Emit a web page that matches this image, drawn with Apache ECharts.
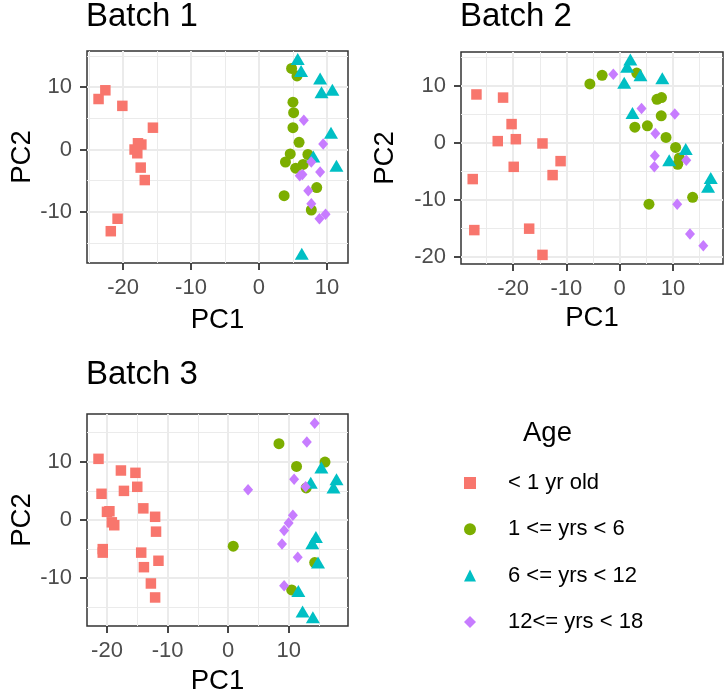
<!DOCTYPE html>
<html>
<head>
<meta charset="utf-8">
<script src="https://cdn.jsdelivr.net/npm/echarts@6/dist/echarts.min.js"></script>
<style>
  html, body { margin: 0; padding: 0; background: #fff; }
  #chart { width: 726px; height: 696px; }
</style>
</head>
<body>
<div id="chart"></div>
<script>
// ---------- Data ----------
const groups = ['< 1 yr old', '1 <= yrs < 6', '6 <= yrs < 12', '12<= yrs < 18'];
const panelTitles = ['Batch 1', 'Batch 2', 'Batch 3'];

// Batch 1
const b1_lt1 = [[-22.6,9.5],[-23.6,8.1],[-20.1,7.0],[-15.6,3.5],[-17.3,0.8],[-17.8,1.0],[-18.3,0.0],[-17.9,-0.6],[-17.4,-2.9],[-16.8,-4.9],[-20.8,-11.1],[-21.8,-13.1]];
const b1_1to6 = [[4.8,13.0],[5.6,11.8],[5.0,7.6],[5.1,5.9],[5.0,3.5],[5.9,1.15],[4.6,-0.7],[3.9,-2.0],[7.2,-0.8],[6.5,-2.4],[5.4,-3.0],[8.5,-6.1],[3.7,-7.4],[7.7,-9.7]];
const b1_6to12 = [[5.7,14.5],[6.2,12.6],[9.0,11.4],[9.2,9.2],[10.8,9.6],[10.6,2.7],[8.0,-1.1],[11.4,-2.6],[6.3,-16.7]];
const b1_12to18 = [[6.6,4.7],[9.45,0.9],[7.7,-2.0],[6.0,-4.2],[6.4,-4.0],[9.0,-3.6],[7.25,-6.6],[7.7,-8.7],[8.9,-11.1],[9.8,-10.4]];

// Batch 2
const b2_lt1 = [[-26.9,8.45],[-21.9,7.9],[-20.3,3.25],[-22.9,0.26],[-19.5,0.6],[-14.5,-0.15],[-11.1,-3.25],[-19.9,-4.25],[-12.6,-5.7],[-27.6,-6.4],[-27.3,-15.35],[-17.0,-15.1],[-14.5,-19.7]];
const b2_1to6 = [[-5.6,10.3],[-3.3,11.8],[3.2,12.2],[2.85,2.7],[5.2,2.95],[5.5,-10.8],[7.0,7.6],[7.85,7.9],[7.8,4.7],[8.7,0.9],[10.5,-0.85],[11.2,-2.7],[10.9,-3.8],[13.7,-9.6]];
const b2_6to12 = [[2.0,14.6],[1.4,13.3],[3.9,11.8],[0.85,10.5],[8.0,11.3],[2.4,5.2],[12.4,-1.1],[9.3,-3.1],[17.1,-6.2],[16.6,-7.75]];
const b2_12to18 = [[-1.2,12.0],[4.1,6.0],[10.35,5.0],[6.7,1.6],[6.6,-2.3],[6.5,-4.25],[12.5,-3.1],[10.8,-10.8],[13.2,-16.05],[15.7,-18.1]];

// Batch 3
const b3_lt1 = [[-21.4,10.5],[-17.7,8.5],[-15.3,8.1],[-20.9,4.5],[-17.2,5.0],[-15.0,5.7],[-20.0,1.4],[-19.6,1.5],[-19.2,-0.4],[-18.8,-0.9],[-14.0,2.0],[-12.05,0.55],[-11.9,-2.0],[-20.7,-5.0],[-20.7,-5.6],[-14.35,-5.6],[-11.5,-7.0],[-13.9,-8.1],[-12.75,-10.9],[-12.05,-13.3]];
const b3_1to6 = [[0.85,-4.5],[8.4,13.1],[11.3,9.2],[16.0,9.95],[12.9,5.5],[14.3,-7.3],[10.5,-12.0]];
const b3_6to12 = [[15.4,9.0],[13.65,6.4],[17.9,7.0],[17.4,5.6],[14.5,-2.9],[13.9,-4.0],[14.85,-7.3],[11.6,-12.2],[12.3,-15.7],[14.0,-16.7]];
const b3_12to18 = [[14.3,16.6],[13.0,13.4],[10.9,7.0],[12.8,5.7],[3.3,5.2],[10.7,0.8],[10.0,-0.5],[9.25,-1.8],[8.9,-4.1],[11.5,-6.4],[9.25,-11.3]];

const panelData = [
  [b1_lt1, b1_1to6, b1_6to12, b1_12to18],
  [b2_lt1, b2_1to6, b2_6to12, b2_12to18],
  [b3_lt1, b3_1to6, b3_6to12, b3_12to18]
];

// Axis ranges and breaks
const xRanges = [[-25.3, 13.1], [-29.8, 19.4], [-23.3, 19.8]];
const yRanges = [[-18.2, 15.8], [-21.3, 15.9], [-18.2, 18.2]];
const xMajor = [[-20,-10,0,10], [-20,-10,0,10], [-20,-10,0,10]];
const xMinor = [[-25,-15,-5,5], [-25,-15,-5,5,15], [-15,-5,5,15]];
const yMajor = [[-10,0,10], [-20,-10,0,10], [-10,0,10]];
const yMinor = [[-15,-5,5,15], [-15,-5,5,15], [-15,-5,5,15]];

// ---------- Styles / layout ----------
const FONT = '"Liberation Sans", Arial, Helvetica, sans-serif';
const colors = ['#F8766D', '#7CAE00', '#00BFC4', '#C77CFF'];
const symbols = ['rect', 'circle', 'triangle', 'diamond'];
const symbolSizes = [10.5, 11, [14, 12], [10, 11.5]];
const grids = [
  { left: 87, top: 51, width: 261, height: 212 },
  { left: 461, top: 52, width: 262, height: 212 },
  { left: 87, top: 414, width: 261, height: 213 }
];
const titlePos = [{ left: 86, top: 0 }, { left: 460, top: 0 }, { left: 86, top: 358 }];
const xNameGap = [43, 40, 41];
const yNameGap = [51, 62, 51];

const gridOpts = grids.map(g => Object.assign({}, g, {
  show: true, borderColor: '#333333', borderWidth: 1.5, backgroundColor: 'transparent', containLabel: false
}));

const xAxes = [], yAxes = [];
for (let p = 0; p < 3; p++) {
  xAxes.push({
    type: 'value', gridIndex: p, min: xRanges[p][0], max: xRanges[p][1], position: 'bottom',
    name: 'PC1', nameLocation: 'middle', nameGap: xNameGap[p],
    nameTextStyle: { fontSize: 27.5, color: '#000', fontFamily: FONT },
    axisLine: { show: false, onZero: false },
    axisTick: { show: true, customValues: xMajor[p], length: 7, lineStyle: { color: '#333333', width: 1.8 } },
    axisLabel: { customValues: xMajor[p], fontSize: 22, color: '#4D4D4D', fontFamily: FONT, margin: 14 },
    splitLine: { show: true, lineStyle: { color: '#EBEBEB', width: 2 } }
  });
  xAxes.push({
    type: 'value', gridIndex: p, min: xRanges[p][0], max: xRanges[p][1], position: 'top',
    axisLine: { show: false, onZero: false },
    axisTick: { show: false, customValues: xMinor[p] },
    axisLabel: { show: false, customValues: xMinor[p] },
    splitLine: { show: true, lineStyle: { color: '#EBEBEB', width: 1 } }
  });
  yAxes.push({
    type: 'value', gridIndex: p, min: yRanges[p][0], max: yRanges[p][1], position: 'left',
    name: 'PC2', nameLocation: 'middle', nameGap: yNameGap[p],
    nameTextStyle: { fontSize: 27.5, color: '#000', fontFamily: FONT },
    axisLine: { show: false, onZero: false },
    axisTick: { show: true, customValues: yMajor[p], length: 7, lineStyle: { color: '#333333', width: 1.8 } },
    axisLabel: { customValues: yMajor[p], fontSize: 22, color: '#4D4D4D', fontFamily: FONT, margin: 15 },
    splitLine: { show: true, lineStyle: { color: '#EBEBEB', width: 2 } }
  });
  yAxes.push({
    type: 'value', gridIndex: p, min: yRanges[p][0], max: yRanges[p][1], position: 'right',
    axisLine: { show: false, onZero: false },
    axisTick: { show: false, customValues: yMinor[p] },
    axisLabel: { show: false, customValues: yMinor[p] },
    splitLine: { show: true, lineStyle: { color: '#EBEBEB', width: 1 } }
  });
}

const series = [];
for (let p = 0; p < 3; p++) {
  for (let g = 0; g < 4; g++) {
    series.push({
      type: 'scatter', name: groups[g],
      xAxisIndex: p * 2, yAxisIndex: p * 2,
      data: panelData[p][g],
      symbol: symbols[g], symbolSize: symbolSizes[g],
      itemStyle: { color: colors[g], opacity: 1 },
      emphasis: { disabled: true }
    });
  }
}

const titles = panelTitles.map((t, i) => ({
  text: t, left: titlePos[i].left, top: titlePos[i].top, padding: 0,
  textStyle: { fontSize: 33, fontWeight: 'normal', color: '#000', fontFamily: FONT }
}));
titles.push({
  text: 'Age', left: 523, top: 419, padding: 0,
  textStyle: { fontSize: 27.5, fontWeight: 'normal', color: '#000', fontFamily: FONT }
});

const option = {
  animation: false,
  backgroundColor: '#ffffff',
  title: titles,
  grid: gridOpts,
  xAxis: xAxes,
  yAxis: yAxes,
  legend: {
    data: groups,
    orient: 'vertical',
    left: 464, top: 472, padding: 0,
    itemWidth: 12, itemHeight: 12, itemGap: 24.3,
    selectedMode: false,
    textStyle: { fontSize: 22, lineHeight: 22, color: '#000', fontFamily: FONT, padding: [0, 0, 0, 27] }
  },
  series: series
};

const chart = echarts.init(document.getElementById('chart'), null, { renderer: 'canvas' });
chart.setOption(option);
</script>
</body>
</html>
